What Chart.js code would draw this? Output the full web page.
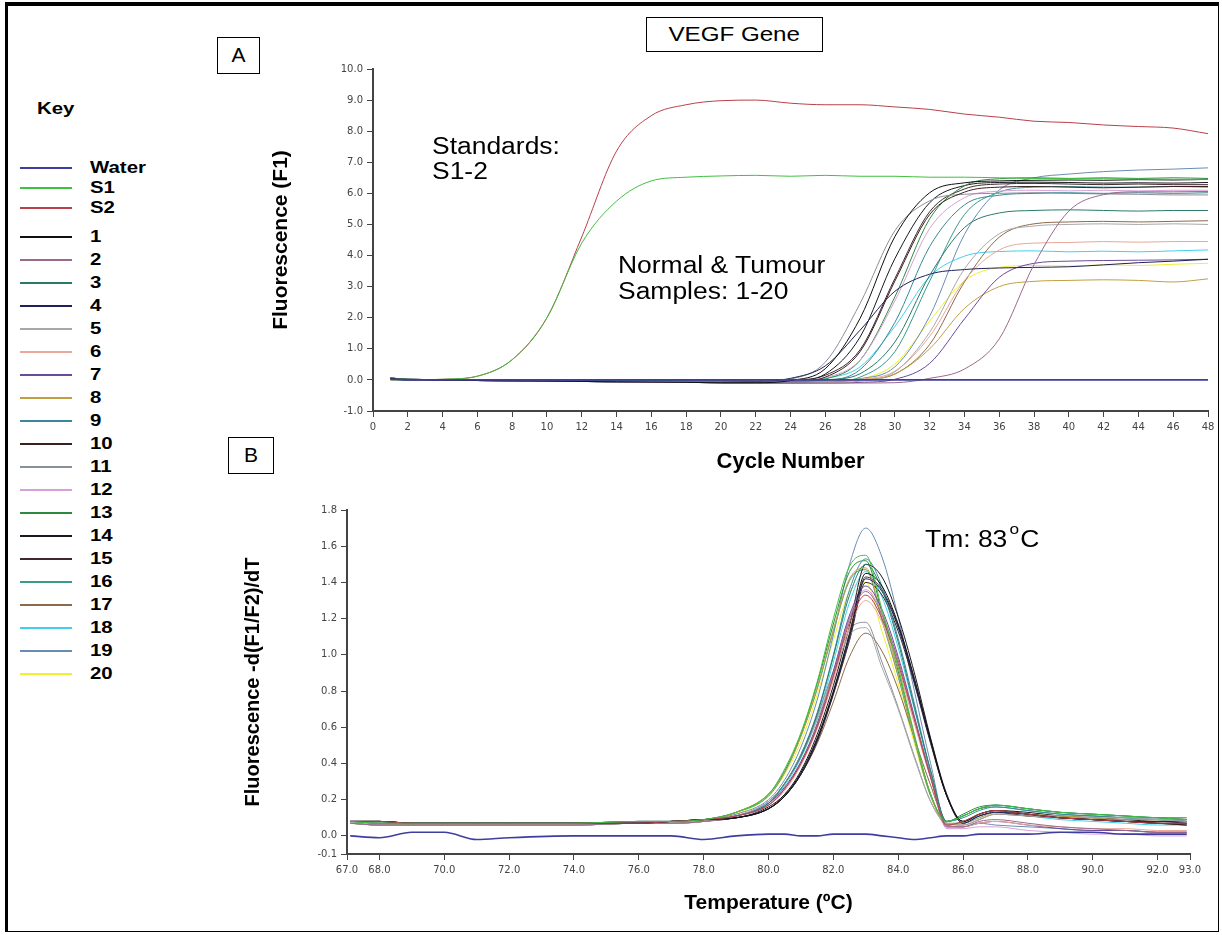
<!DOCTYPE html>
<html lang="en">
<head>
<meta charset="UTF-8">
<title>VEGF Gene</title>
<script src="https://cdn.jsdelivr.net/npm/chart.js"></script>
<style>
  body { margin: 0; width: 1222px; height: 935px; background: #fff; font-family: Arial, "Liberation Sans", sans-serif; overflow: hidden; position: relative; }
  .frame { position: absolute; left: 5px; top: 2px; width: 1214px; height: 930px; box-sizing: border-box; border-style: solid; border-color: #000; border-width: 4px 1px 1px 3px; }
  .chartbox { position: absolute; }
  .tag { position: absolute; border: 1.5px solid #000; box-sizing: border-box; text-align: center; font-size: 21px; }
  .note { position: absolute; font-size: 23px; line-height: 25px; transform: scaleX(1.15); transform-origin: 0 0; white-space: nowrap; }
  .deg { font-size: 15px; position: relative; top: -13px; margin: 0 1px 0 2px; }
  #keyTitle { position: absolute; left: 37px; top: 99px; font-weight: bold; font-size: 17px; line-height: 20px; transform: scaleX(1.2); transform-origin: 0 0; }
  #keyRows { position: absolute; left: 20px; top: 158px; }
  .row { display: flex; align-items: center; height: 23px; }
  .row.std { height: 20px; }
  .row.first { margin-top: 7px; }
  .swatch { width: 52px; height: 2px; }
  .lbl { margin-left: 18px; font-weight: bold; font-size: 17px; transform: scaleX(1.2); transform-origin: 0 50%; }
</style>
</head>
<body>
<div class="frame"></div>

<div class="tag" style="left:217px; top:37px; width:43px; height:37px; line-height:34px;">A</div>
<div class="tag" style="left:228px; top:437px; width:46px; height:37px; line-height:34px;">B</div>
<div class="tag" style="left:646px; top:17px; width:177px; height:35px; line-height:32px;"><span style="display:inline-block; transform:scaleX(1.15);">VEGF Gene</span></div>

<div id="keyTitle">Key</div>
<div id="keyRows"></div>

<div class="chartbox" style="left:262px; top:59px; width:958px; height:416px;"><canvas id="ampChart"></canvas></div>
<div class="chartbox" style="left:235px; top:500px; width:977px; height:416px;"><canvas id="meltChart"></canvas></div>

<div class="note" style="left:432px; top:134px;">Standards:<br>S1-2</div>
<div class="note" style="left:618px; top:252px; line-height:26px;">Normal &amp; Tumour<br>Samples: 1-20</div>
<div class="note" style="left:925px; top:527px;">Tm: 83<span class="deg">o</span>C</div>

<script>
// series names and colours (shared by both panels and the key)
const seriesNames = ['Water', 'S1', 'S2', '1', '2', '3', '4', '5', '6', '7', '8', '9', '10',
  '11', '12', '13', '14', '15', '16', '17', '18', '19', '20'];
const seriesColors = ['#3e3ea0', '#40c040', '#b8404a', '#101010', '#9a6a8a', '#2a7a6a', '#20205a',
  '#a8a8a8', '#e8a898', '#6a4a98', '#c0a040', '#3a8898', '#3a2020', '#8a9098', '#d8a0d8',
  '#2e8a3e', '#181820', '#402830', '#3a9a8c', '#8a6a48', '#40d0ee', '#6a8cb4', '#f0f030'];

// panel A: amplification, cycle number vs fluorescence (F1)
const cycles = [1, 2, 4, 6, 8, 10, 12, 14, 16, 18, 20, 22, 24, 26, 28, 30, 32, 34, 36, 38, 40, 42, 44, 46, 48];
const cycleTicks = [0, 2, 4, 6, 8, 10, 12, 14, 16, 18, 20, 22, 24, 26, 28, 30, 32, 34, 36, 38, 40, 42, 44, 46, 48];
const fluorTicks = [-1, 0, 1, 2, 3, 4, 5, 6, 7, 8, 9, 10];

const ampWater = [0.02, 0, 0, 0, 0, 0, 0, 0, 0, 0, 0, 0, 0, 0, 0, 0, 0, 0, 0, 0, 0, 0, 0, 0, 0];
const ampS1 = [0, 0, 0.02, 0.12, 0.65, 2.0, 4.4, 5.75, 6.4, 6.52, 6.56, 6.58, 6.55, 6.58, 6.55, 6.55, 6.52, 6.52, 6.5, 6.48, 6.48, 6.47, 6.46, 6.45, 6.45];
const ampS2 = [0, 0, 0.02, 0.12, 0.65, 2.0, 4.6, 7.36, 8.5, 8.85, 8.98, 9.0, 8.9, 8.85, 8.85, 8.78, 8.7, 8.55, 8.45, 8.32, 8.28, 8.2, 8.15, 8.1, 7.92];
const amp1 = [0.04, 0, -0.01, -0.02, -0.03, -0.04, -0.05, -0.06, -0.07, -0.08, -0.09, -0.09, -0.02, 0.36, 1.98, 4.61, 6.02, 6.34, 6.4, 6.42, 6.43, 6.42, 6.44, 6.43, 6.45];
const amp2 = [0.04, 0, -0.01, -0.02, -0.03, -0.04, -0.05, -0.06, -0.07, -0.08, -0.09, -0.1, -0.1, -0.1, -0.1, -0.09, 0.05, 0.35, 1.32, 3.71, 5.43, 5.96, 6.05, 6.05, 6.06];
const amp3 = [0.06, 0.02, 0.01, 0, 0, -0.01, -0.01, -0.02, -0.02, -0.03, -0.03, -0.04, -0.04, 0, 0.2, 1.22, 3.36, 4.9, 5.37, 5.45, 5.47, 5.45, 5.43, 5.45, 5.45];
const amp4 = [0.06, 0.02, 0.01, 0, 0, -0.01, -0.01, -0.02, -0.02, -0.03, -0.03, -0.05, 0.05, 0.45, 1.6, 2.85, 3.4, 3.55, 3.6, 3.62, 3.64, 3.7, 3.77, 3.82, 3.88];
const amp5 = [0.04, 0, -0.01, -0.02, -0.03, -0.04, -0.05, -0.06, -0.07, -0.08, -0.09, -0.1, -0.1, -0.09, -0.04, 0.26, 1.53, 3.57, 4.7, 4.95, 5.0, 5.02, 5.0, 5.02, 5.0];
const amp6 = [0.06, 0.02, 0.01, 0, 0, -0.01, -0.01, -0.02, -0.02, -0.03, -0.03, -0.04, -0.04, -0.03, 0.02, 0.28, 1.4, 3.2, 4.18, 4.4, 4.42, 4.45, 4.43, 4.45, 4.45];
const amp7 = [0.04, 0, -0.01, -0.02, -0.03, -0.04, -0.05, -0.06, -0.07, -0.08, -0.09, -0.1, -0.1, -0.1, -0.08, 0.02, 0.53, 1.96, 3.3, 3.75, 3.82, 3.84, 3.85, 3.86, 3.88];
const amp8 = [0.06, 0.02, 0.01, 0, 0, -0.01, -0.01, -0.02, -0.02, -0.03, -0.03, -0.04, -0.04, -0.04, 0, 0.19, 1.0, 2.3, 3.0, 3.17, 3.2, 3.22, 3.2, 3.15, 3.25];
const amp9 = [0.04, 0, -0.01, -0.02, -0.03, -0.04, -0.05, -0.06, -0.07, -0.08, -0.09, -0.1, -0.09, -0.03, 0.33, 1.85, 4.29, 5.63, 5.94, 6.0, 6.02, 6.0, 6.02, 6.0, 6.02];
const amp10 = [0.04, 0, -0.01, -0.02, -0.03, -0.04, -0.05, -0.06, -0.07, -0.08, -0.09, -0.1, -0.07, 0.09, 0.91, 3.18, 5.32, 6.04, 6.2, 6.22, 6.2, 6.18, 6.2, 6.22, 6.22];
const amp11 = [0.04, 0, -0.01, -0.02, -0.03, -0.04, -0.05, -0.06, -0.07, -0.08, -0.09, -0.08, 0.02, 0.57, 2.46, 4.8, 5.76, 5.97, 6.0, 6.02, 6.0, 5.98, 5.97, 5.95, 5.95];
const amp12 = [0.06, 0.02, 0.01, 0, 0, -0.01, -0.01, -0.02, -0.02, -0.03, -0.03, -0.04, -0.02, 0.08, 0.64, 2.54, 4.87, 5.86, 6.07, 6.1, 6.08, 6.1, 6.08, 6.1, 6.1];
const amp13 = [0.04, 0, -0.01, -0.02, -0.03, -0.04, -0.05, -0.06, -0.07, -0.08, -0.09, -0.1, -0.08, 0.03, 0.63, 2.67, 5.18, 6.24, 6.47, 6.5, 6.48, 6.5, 6.48, 6.5, 6.48];
const amp14 = [0.04, 0, -0.01, -0.02, -0.03, -0.04, -0.05, -0.06, -0.07, -0.08, -0.09, -0.1, -0.05, 0.19, 1.38, 3.9, 5.7, 6.25, 6.35, 6.36, 6.35, 6.33, 6.34, 6.33, 6.35];
const amp15 = [0.06, 0.02, 0.01, 0, 0, -0.01, -0.01, -0.02, -0.02, -0.03, -0.03, -0.04, -0.01, 0.15, 0.97, 3.26, 5.41, 6.14, 6.3, 6.32, 6.3, 6.28, 6.3, 6.28, 6.28];
const amp16 = [0.04, 0, -0.01, -0.02, -0.03, -0.04, -0.05, -0.06, -0.07, -0.08, -0.09, -0.1, -0.1, -0.07, 0.09, 0.91, 3.18, 5.32, 6.04, 6.2, 6.22, 6.2, 6.2, 6.22, 6.2];
const amp17 = [0.06, 0.02, 0.01, 0, 0, -0.01, -0.01, -0.02, -0.02, -0.03, -0.03, -0.04, -0.04, -0.04, 0, 0.19, 1.14, 3.15, 4.59, 5.02, 5.08, 5.1, 5.08, 5.1, 5.12];
const amp18 = [0.06, 0.02, 0.01, 0, 0, -0.01, -0.01, -0.02, -0.02, -0.03, -0.03, -0.04, -0.03, 0.05, 0.42, 1.72, 3.32, 3.98, 4.13, 4.15, 4.12, 4.14, 4.12, 4.15, 4.18];
const amp19 = [0.06, 0.02, 0.01, 0, 0, -0.01, -0.01, -0.02, -0.02, -0.03, -0.03, -0.04, -0.04, -0.03, 0.04, 0.42, 2.05, 4.68, 6.11, 6.5, 6.62, 6.7, 6.75, 6.78, 6.82];
const amp20 = [0.04, 0, -0.01, -0.02, -0.03, -0.04, -0.05, -0.06, -0.07, -0.08, -0.09, -0.1, -0.1, -0.08, 0.02, 0.51, 1.89, 3.19, 3.62, 3.68, 3.66, 3.7, 3.68, 3.72, 3.75];

// panel B: melt curves, temperature vs -d(F1/F2)/dT
const temps = [67.1, 68, 69, 70, 71, 72, 74, 76, 77, 78, 79, 80, 80.5, 81, 81.5, 82, 82.5, 83, 83.5, 84, 84.5, 85, 85.5, 86, 86.5, 87, 88, 89, 90, 91, 92, 92.9];
const tempTicks = [67, 68, 70, 72, 74, 76, 78, 80, 82, 84, 86, 88, 90, 92, 93];
const derivTicks = [-0.1, 0, 0.2, 0.4, 0.6, 0.8, 1.0, 1.2, 1.4, 1.6, 1.8];

const meltWater = [0, -0.01, 0.02, 0.02, -0.02, -0.01, 0, 0, 0, -0.02, 0, 0.01, 0.01, 0, 0, 0.01, 0.01, 0.01, 0, -0.01, -0.02, -0.01, 0, 0, 0.01, 0.01, 0.01, 0.02, 0.02, 0.01, 0.01, 0.01];
const meltS1 = [0.08, 0.07, 0.07, 0.07, 0.07, 0.07, 0.07, 0.08, 0.08, 0.09, 0.13, 0.23, 0.37, 0.57, 0.85, 1.2, 1.49, 1.55, 1.25, 0.93, 0.56, 0.23, 0.08, 0.11, 0.15, 0.17, 0.15, 0.13, 0.12, 0.11, 0.1, 0.09];
const meltS2 = [0.08, 0.08, 0.07, 0.07, 0.07, 0.07, 0.07, 0.07, 0.08, 0.09, 0.11, 0.17, 0.26, 0.4, 0.6, 0.88, 1.18, 1.33, 1.2, 0.95, 0.64, 0.32, 0.06, 0.08, 0.12, 0.14, 0.12, 0.1, 0.09, 0.08, 0.07, 0.07];
const melt1 = [0.08, 0.08, 0.07, 0.07, 0.07, 0.07, 0.07, 0.07, 0.08, 0.09, 0.1, 0.15, 0.22, 0.35, 0.54, 0.8, 1.12, 1.45, 1.38, 1.17, 0.87, 0.53, 0.22, 0.08, 0.12, 0.14, 0.12, 0.1, 0.09, 0.08, 0.07, 0.07];
const melt2 = [0.07, 0.06, 0.06, 0.06, 0.06, 0.06, 0.06, 0.07, 0.07, 0.08, 0.11, 0.17, 0.26, 0.4, 0.61, 0.89, 1.2, 1.35, 1.22, 0.97, 0.65, 0.33, 0.05, 0.05, 0.08, 0.09, 0.07, 0.05, 0.04, 0.03, 0.02, 0.02];
const melt3 = [0.08, 0.07, 0.07, 0.07, 0.07, 0.07, 0.07, 0.08, 0.08, 0.09, 0.11, 0.18, 0.29, 0.44, 0.67, 0.99, 1.33, 1.5, 1.36, 1.07, 0.71, 0.36, 0.08, 0.11, 0.15, 0.17, 0.15, 0.13, 0.12, 0.11, 0.1, 0.09];
const melt4 = [0.08, 0.08, 0.07, 0.07, 0.07, 0.07, 0.07, 0.07, 0.08, 0.09, 0.1, 0.15, 0.22, 0.34, 0.53, 0.79, 1.1, 1.42, 1.35, 1.15, 0.85, 0.52, 0.22, 0.07, 0.11, 0.13, 0.12, 0.1, 0.09, 0.08, 0.08, 0.07];
const melt5 = [0.07, 0.06, 0.06, 0.06, 0.06, 0.06, 0.06, 0.07, 0.07, 0.08, 0.11, 0.19, 0.29, 0.44, 0.64, 0.89, 1.11, 1.15, 0.93, 0.7, 0.43, 0.19, 0.07, 0.06, 0.09, 0.12, 0.11, 0.1, 0.1, 0.1, 0.09, 0.08];
const melt6 = [0.08, 0.07, 0.07, 0.07, 0.07, 0.07, 0.07, 0.08, 0.08, 0.09, 0.11, 0.17, 0.25, 0.39, 0.59, 0.86, 1.15, 1.3, 1.18, 0.93, 0.62, 0.32, 0.05, 0.05, 0.07, 0.08, 0.06, 0.05, 0.04, 0.04, 0.03, 0.03];
const melt7 = [0.08, 0.08, 0.07, 0.07, 0.07, 0.07, 0.07, 0.07, 0.08, 0.09, 0.11, 0.18, 0.27, 0.41, 0.62, 0.91, 1.22, 1.38, 1.25, 0.99, 0.66, 0.33, 0.05, 0.05, 0.07, 0.08, 0.06, 0.04, 0.03, 0.03, 0.02, 0.02];
const melt8 = [0.07, 0.06, 0.06, 0.06, 0.06, 0.06, 0.06, 0.07, 0.07, 0.08, 0.13, 0.23, 0.35, 0.55, 0.82, 1.14, 1.42, 1.48, 1.2, 0.89, 0.54, 0.23, 0.06, 0.08, 0.12, 0.14, 0.12, 0.11, 0.1, 0.09, 0.09, 0.09];
const melt9 = [0.08, 0.07, 0.07, 0.07, 0.07, 0.07, 0.07, 0.08, 0.08, 0.09, 0.11, 0.19, 0.29, 0.45, 0.68, 1.0, 1.36, 1.53, 1.38, 1.09, 0.73, 0.36, 0.08, 0.1, 0.14, 0.16, 0.14, 0.12, 0.11, 0.1, 0.09, 0.08];
const melt10 = [0.08, 0.08, 0.07, 0.07, 0.07, 0.07, 0.07, 0.07, 0.08, 0.09, 0.1, 0.15, 0.22, 0.34, 0.52, 0.78, 1.08, 1.4, 1.33, 1.13, 0.84, 0.51, 0.22, 0.08, 0.12, 0.14, 0.12, 0.1, 0.09, 0.08, 0.07, 0.06];
const melt11 = [0.07, 0.06, 0.06, 0.06, 0.06, 0.06, 0.06, 0.07, 0.07, 0.08, 0.11, 0.19, 0.29, 0.45, 0.66, 0.91, 1.14, 1.18, 0.96, 0.71, 0.44, 0.19, 0.07, 0.07, 0.1, 0.13, 0.12, 0.11, 0.11, 0.1, 0.1, 0.09];
const melt12 = [0.08, 0.07, 0.07, 0.07, 0.07, 0.07, 0.07, 0.08, 0.08, 0.09, 0.11, 0.17, 0.26, 0.41, 0.61, 0.9, 1.21, 1.36, 1.23, 0.97, 0.65, 0.33, 0.04, 0.04, 0.05, 0.05, 0.03, 0.02, 0.01, 0.01, 0, 0];
const melt13 = [0.08, 0.08, 0.07, 0.07, 0.07, 0.07, 0.07, 0.07, 0.08, 0.09, 0.13, 0.23, 0.36, 0.56, 0.84, 1.17, 1.46, 1.52, 1.23, 0.91, 0.55, 0.23, 0.08, 0.12, 0.16, 0.17, 0.15, 0.13, 0.12, 0.11, 0.1, 0.1];
const melt14 = [0.08, 0.08, 0.07, 0.07, 0.07, 0.07, 0.07, 0.07, 0.08, 0.09, 0.1, 0.16, 0.23, 0.36, 0.56, 0.83, 1.16, 1.5, 1.43, 1.21, 0.9, 0.54, 0.23, 0.08, 0.12, 0.14, 0.13, 0.11, 0.1, 0.09, 0.08, 0.08];
const melt15 = [0.07, 0.06, 0.06, 0.06, 0.06, 0.06, 0.06, 0.07, 0.07, 0.08, 0.1, 0.15, 0.22, 0.34, 0.53, 0.79, 1.1, 1.43, 1.36, 1.16, 0.86, 0.52, 0.22, 0.07, 0.11, 0.13, 0.11, 0.1, 0.09, 0.08, 0.07, 0.06];
const melt16 = [0.08, 0.07, 0.07, 0.07, 0.07, 0.07, 0.07, 0.08, 0.08, 0.09, 0.13, 0.22, 0.35, 0.55, 0.81, 1.13, 1.41, 1.47, 1.19, 0.88, 0.53, 0.22, 0.08, 0.11, 0.15, 0.16, 0.14, 0.12, 0.11, 0.1, 0.09, 0.08];
const melt17 = [0.08, 0.08, 0.07, 0.07, 0.07, 0.07, 0.07, 0.07, 0.08, 0.09, 0.1, 0.15, 0.23, 0.34, 0.51, 0.74, 0.99, 1.12, 1.02, 0.81, 0.54, 0.28, 0.07, 0.06, 0.09, 0.12, 0.11, 0.1, 0.09, 0.09, 0.09, 0.08];
const melt18 = [0.07, 0.06, 0.06, 0.06, 0.06, 0.06, 0.06, 0.07, 0.07, 0.08, 0.11, 0.18, 0.28, 0.43, 0.65, 0.96, 1.29, 1.46, 1.32, 1.04, 0.7, 0.35, 0.06, 0.08, 0.11, 0.13, 0.11, 0.09, 0.08, 0.07, 0.06, 0.06];
const melt19 = [0.08, 0.07, 0.07, 0.07, 0.07, 0.07, 0.07, 0.08, 0.08, 0.09, 0.12, 0.2, 0.31, 0.49, 0.75, 1.11, 1.5, 1.7, 1.54, 1.21, 0.8, 0.4, 0.06, 0.05, 0.07, 0.06, 0.05, 0.04, 0.03, 0.03, 0.02, 0.02];
const melt20 = [0.07, 0.06, 0.06, 0.06, 0.06, 0.06, 0.06, 0.07, 0.07, 0.08, 0.12, 0.22, 0.34, 0.52, 0.78, 1.08, 1.35, 1.4, 1.13, 0.84, 0.51, 0.22, 0.06, 0.07, 0.1, 0.12, 0.11, 0.1, 0.1, 0.09, 0.09, 0.09];

const ampSeries = [ampWater, ampS1, ampS2, amp1, amp2, amp3, amp4, amp5, amp6, amp7, amp8, amp9, amp10,
  amp11, amp12, amp13, amp14, amp15, amp16, amp17, amp18, amp19, amp20];
const meltSeries = [meltWater, meltS1, meltS2, melt1, melt2, melt3, melt4, melt5, melt6, melt7, melt8, melt9, melt10,
  melt11, melt12, melt13, melt14, melt15, melt16, melt17, melt18, melt19, melt20];

// key on the left
const keyRows = document.getElementById('keyRows');
seriesNames.forEach((name, i) => {
  const row = document.createElement('div');
  row.className = 'row' + (i < 3 ? ' std' : '') + (i === 3 ? ' first' : '');
  row.innerHTML = '<span class="swatch" style="background:' + seriesColors[i] + '"></span><span class="lbl">' + name + '</span>';
  keyRows.appendChild(row);
});

function lineSets(xs, list) {
  return list.map((vals, i) => ({
    label: seriesNames[i],
    data: vals.map((v, j) => ({ x: xs[j], y: v })),
    borderColor: seriesColors[i],
    borderWidth: i === 0 ? 1.6 : 1,
    pointRadius: 0,
    fill: false,
    cubicInterpolationMode: 'monotone'
  }));
}

function axis(o) {
  return {
    type: 'linear',
    min: o.min,
    max: o.max,
    afterBuildTicks: (s) => { s.ticks = o.ticks.map(v => ({ value: v })); },
    afterFit: (s) => { if (o.width) s.width = o.width; if (o.height) s.height = o.height; },
    grid: { drawOnChartArea: false, drawTicks: true, tickLength: 6, tickColor: '#444', color: '#444' },
    border: { display: true, color: '#444', width: 2 },
    ticks: {
      autoSkip: false,
      maxRotation: 0,
      padding: 4,
      color: '#444',
      font: { family: 'DejaVu Sans', size: 10 },
      callback: (v) => Number(v).toFixed(o.digits)
    },
    title: {
      display: true,
      text: o.title,
      color: '#000',
      font: { family: 'Arial', size: o.titleSize, weight: 'bold' },
      padding: o.titlePad
    }
  };
}

function makeChart(id, xs, list, xAxis, yAxis, pad) {
  new Chart(document.getElementById(id), {
    type: 'line',
    data: { datasets: lineSets(xs, list) },
    options: {
      responsive: true,
      maintainAspectRatio: false,
      animation: false,
      layout: { padding: pad },
      plugins: { legend: { display: false }, tooltip: { enabled: false } },
      scales: { x: axis(xAxis), y: axis(yAxis) }
    }
  });
}

makeChart('ampChart', cycles, ampSeries,
  { min: 0, max: 48, ticks: cycleTicks, digits: 0, height: 64, title: 'Cycle Number', titleSize: 22, titlePad: { top: 0, bottom: 0 } },
  { min: -1, max: 10, ticks: fluorTicks, digits: 1, width: 111, title: 'Fluorescence (F1)', titleSize: 21, titlePad: { top: 7, bottom: 0 } },
  { top: 10, right: 12, left: 0, bottom: 0 });

makeChart('meltChart', temps, meltSeries,
  { min: 67, max: 93, ticks: tempTicks, digits: 1, height: 62, title: 'Temperature (\u00baC)', titleSize: 21, titlePad: { top: 0, bottom: 0 } },
  { min: -0.1, max: 1.8, ticks: derivTicks, digits: 1, width: 112, title: 'Fluorescence -d(F1/F2)/dT', titleSize: 20, titlePad: { top: 6, bottom: 0 } },
  { top: 10, right: 22, left: 0, bottom: 0 });
</script>
</body>
</html>
